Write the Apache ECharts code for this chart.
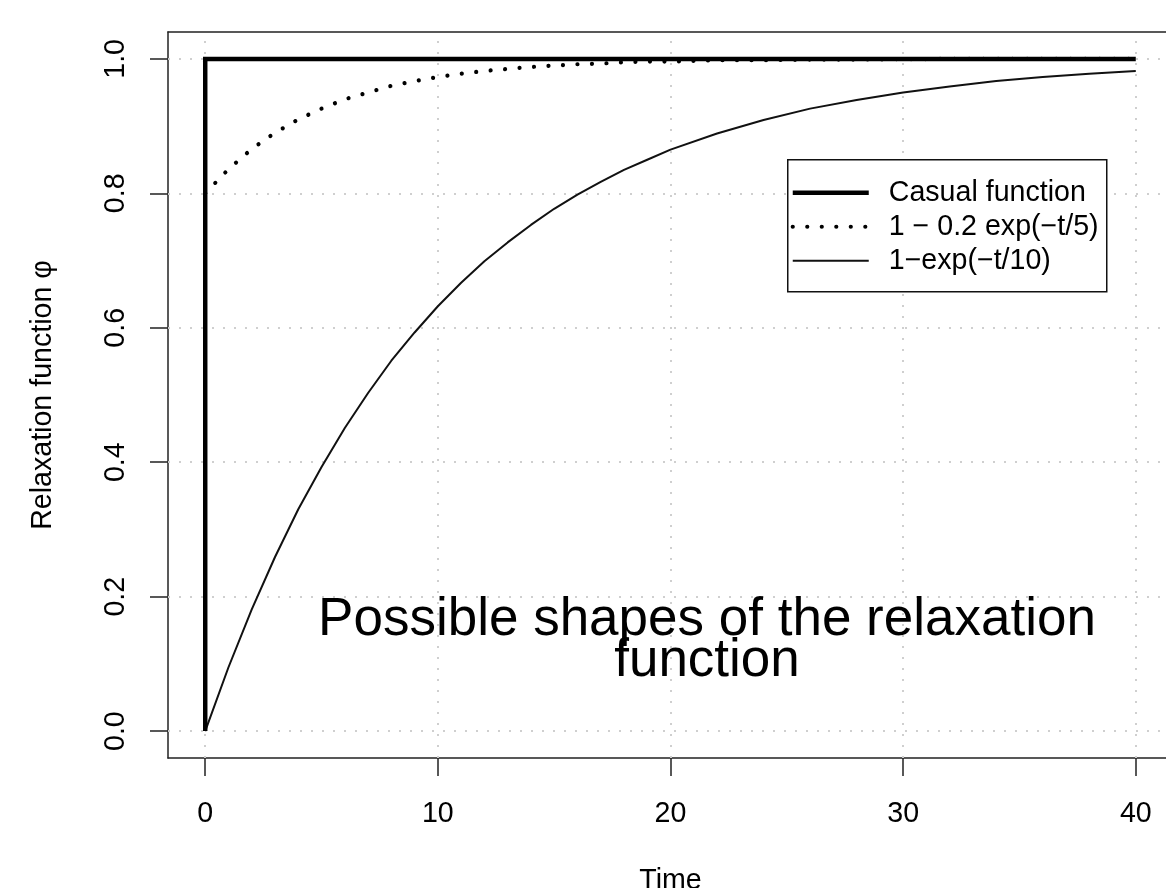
<!DOCTYPE html>
<html>
<head>
<meta charset="utf-8">
<script src="https://cdn.jsdelivr.net/npm/echarts@6/dist/echarts.min.js"></script>
<style>
html,body{margin:0;padding:0;background:#fff;}
#chart{width:1166px;height:888px;}
</style>
</head>
<body>
<div id="chart"></div>
<script>
// ---- data ----
const xTicks = [0, 10, 20, 30, 40];
const yTicks = [0, 0.2, 0.4, 0.6, 0.8, 1.0];
const seriesNames = ['Casual function', '1 \u2212 0.2 exp(\u2212t/5)', '1\u2212exp(\u2212t/10)'];
const titleLines = ['Possible shapes of the relaxation', 'function'];
const xName = 'Time';
const yName = 'Relaxation function \u03C6';

const causalT = [0, 0, 40];
const causalV = [0, 1, 1];

const dotT = [0, 1, 2, 3, 4, 5, 6, 7, 8, 9, 10, 11, 12, 13, 14, 15, 16, 17, 18, 19, 20, 22, 24, 26, 28, 30, 32, 34, 36, 38, 40];
const dotV = [0.800, 0.836, 0.866, 0.890, 0.910, 0.926, 0.940, 0.950, 0.960, 0.967, 0.973, 0.978, 0.982, 0.985, 0.988, 0.990, 0.992, 0.993, 0.995, 0.996, 0.996, 0.998, 0.998, 0.999, 0.999, 0.9995, 1.000, 1.000, 1.000, 1.000, 1.000];

const expT = [0, 1, 2, 3, 4, 5, 6, 7, 8, 9, 10, 11, 12, 13, 14, 15, 16, 17, 18, 19, 20, 22, 24, 26, 28, 30, 32, 34, 36, 38, 40];
const expV = [0.000, 0.095, 0.181, 0.259, 0.330, 0.393, 0.451, 0.503, 0.551, 0.593, 0.632, 0.667, 0.699, 0.727, 0.753, 0.777, 0.798, 0.817, 0.835, 0.850, 0.865, 0.889, 0.909, 0.926, 0.939, 0.950, 0.959, 0.967, 0.973, 0.978, 0.982];

const zip = (a, b) => a.map((v, i) => [v, b[i]]);

const FONT = 'Liberation Sans, Arial, Helvetica, sans-serif';
const chart = echarts.init(document.getElementById('chart'), null, {renderer: 'canvas'});

const gridDot = {color: '#cfcfcf', width: 2, type: [2, 9]};
const boxLine = {color: '#222', width: 1.5};

const option = {
  animation: false,
  backgroundColor: '#ffffff',
  grid: {
    left: 168, top: 32, width: 1005, height: 726,
    show: false, containLabel: false, outerBoundsMode: 'none'
  },
  xAxis: [{
    type: 'value', min: -1.6, max: 41.6, position: 'bottom',
    name: xName, nameLocation: 'middle', nameGap: 109,
    nameTextStyle: {fontFamily: FONT, fontSize: 28.6, color: '#000'},
    axisLine: {show: true, onZero: false, lineStyle: boxLine},
    axisTick: {show: true, customValues: xTicks, length: 18, lineStyle: boxLine},
    axisLabel: {show: true, customValues: xTicks, margin: 42, fontFamily: FONT, fontSize: 28.6, color: '#000'},
    splitLine: {show: false}
  }, {
    type: 'value', min: -1.6, max: 41.6, position: 'top',
    axisLine: {show: true, onZero: false, lineStyle: boxLine},
    axisTick: {show: false}, axisLabel: {show: false}, splitLine: {show: false}
  }],
  yAxis: {
    type: 'value', min: -0.04, max: 1.04,
    name: yName, nameLocation: 'middle', nameGap: 110, nameRotate: 90,
    nameTextStyle: {fontFamily: FONT, fontSize: 28.6, color: '#000'},
    axisLine: {show: true, onZero: false, lineStyle: boxLine},
    axisTick: {show: true, customValues: yTicks, length: 18, lineStyle: boxLine},
    axisLabel: {show: true, customValues: yTicks, rotate: 90, margin: 37, fontFamily: FONT, fontSize: 28.6, color: '#000',
      formatter: v => Number(v).toFixed(1)},
    splitLine: {show: false}
  },
  series: [
    {
      type: 'line', name: 'grid', data: [], z: 1, silent: true,
      markLine: {
        silent: true, symbol: ['none', 'none'], z: 1, animation: false,
        label: {show: false}, lineStyle: gridDot,
        emphasis: {disabled: true},
        data: xTicks.map(v => ({xAxis: v})).concat(yTicks.map(v => ({yAxis: v})))
      }
    },
    {
      type: 'line', name: seriesNames[2], data: zip(expT, expV), z: 3,
      showSymbol: false, symbol: 'none', smooth: false,
      lineStyle: {color: '#111', width: 2}
    },
    {
      type: 'line', name: seriesNames[1], data: zip(dotT, dotV), z: 3,
      showSymbol: false, symbol: 'none', smooth: false,
      lineStyle: {color: '#000', width: 4.2, type: [0.01, 14.5], cap: 'round'}
    },
    {
      type: 'line', name: seriesNames[0], data: zip(causalT, causalV), z: 4,
      showSymbol: false, symbol: 'none', smooth: false,
      lineStyle: {color: '#000', width: 4.5, join: 'miter'}
    }
  ],
  graphic: [
    {
      type: 'group', left: 787, top: 159, z: 100,
      children: [
        {type: 'rect', z: 100, shape: {x: 0, y: 0, width: 319, height: 132}, style: {fill: '#fff', stroke: '#111', lineWidth: 1.5}},
        {type: 'rect', z: 101, shape: {x: 5, y: 30.75, width: 76, height: 4.5}, style: {fill: '#000'}},
        {type: 'line', z: 101, shape: {x1: 5, y1: 67, x2: 81, y2: 67}, style: {stroke: '#000', lineWidth: 4.2, lineDash: [0.01, 14.5], lineCap: 'round'}},
        {type: 'rect', z: 101, shape: {x: 5, y: 100, width: 76, height: 2}, style: {fill: '#111'}},
        {type: 'text', z: 101, x: 101, y: 33, style: {text: seriesNames[0], font: '28.6px ' + FONT, fill: '#000', verticalAlign: 'middle', align: 'left'}},
        {type: 'text', z: 101, x: 101, y: 67, style: {text: seriesNames[1], font: '28.6px ' + FONT, fill: '#000', verticalAlign: 'middle', align: 'left'}},
        {type: 'text', z: 101, x: 101, y: 101, style: {text: seriesNames[2], font: '28.6px ' + FONT, fill: '#000', verticalAlign: 'middle', align: 'left'}}
      ]
    },
    {
      type: 'text', x: 707, y: 620, z: 100,
      style: {text: titleLines[0], font: '53px ' + FONT, fill: '#000', align: 'center', verticalAlign: 'middle'}
    },
    {
      type: 'text', x: 707, y: 661, z: 100,
      style: {text: titleLines[1], font: '53px ' + FONT, fill: '#000', align: 'center', verticalAlign: 'middle'}
    }
  ]
};
chart.setOption(option);
</script>
</body>
</html>
